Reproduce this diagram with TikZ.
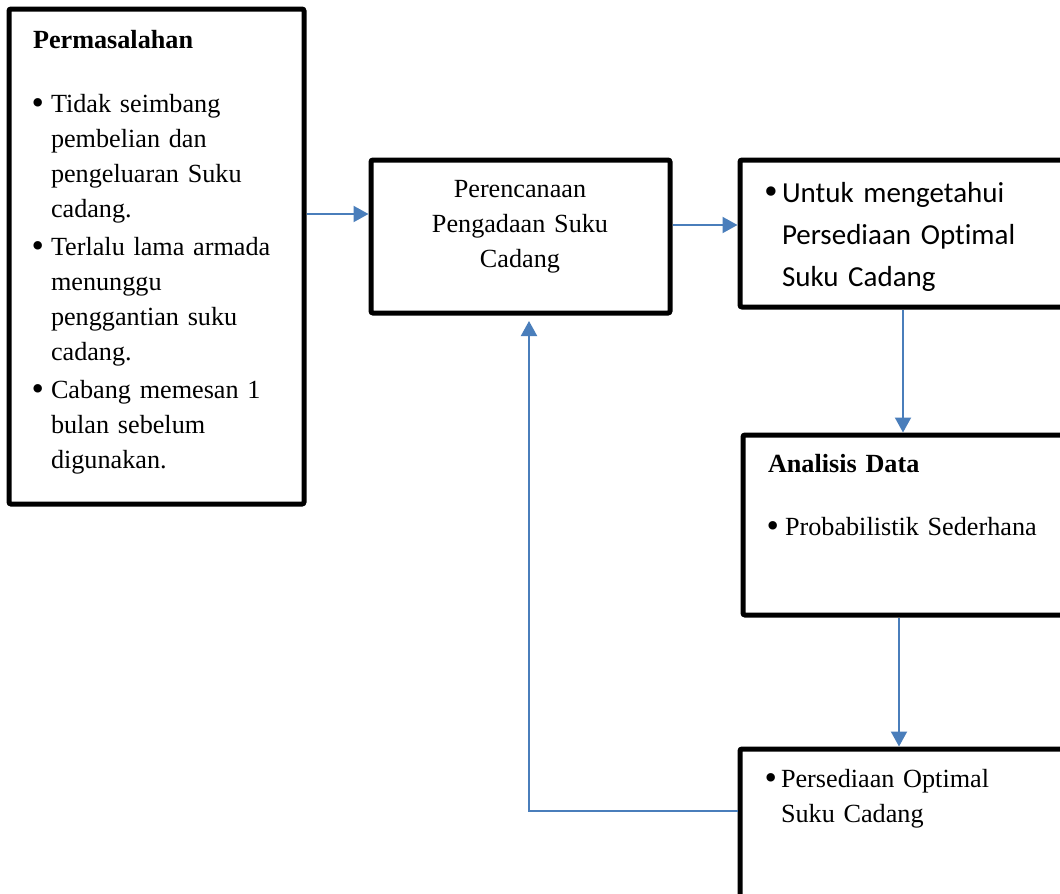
\documentclass[tikz,border=0pt]{standalone}
\usepackage{fontspec}
\usepackage{graphicx}
\setmainfont{Liberation Serif}
\newfontfamily\calibri[Ligatures=NoCommon]{Carlito}
\newfontfamily\bulletfont{Liberation Serif}
\usetikzlibrary{arrows.meta}
\definecolor{conn}{HTML}{4A7EBB}
\newcommand{\blt}[1]{\makebox[#1][l]{\kern-0.7pt\bulletfont\raisebox{-1.4pt}{\scalebox{1.35}{\textbullet}}}}
\begin{document}
\begin{tikzpicture}[x=0.5pt,y=-0.5pt,
  box/.style={draw=black,line width=2.5pt,outer sep=0pt,inner sep=0pt,anchor=north west,rounded corners=1pt},
  txt/.style={inner sep=0pt,outer sep=0pt,anchor=base west,align=left},
  tms/.style={font=\fontsize{13.1}{17.5}\selectfont},
  cal/.style={font=\calibri\fontsize{14.5}{21}\selectfont},
  conn/.style={draw=conn,line width=1pt,-{Triangle[length=7.5pt,width=8pt]}}]
\useasboundingbox (0,0) rectangle (1060,894);
\clip (0,0) rectangle (1060,894);
\fill[white] (0,0) rectangle (1060,894);
% boxes
\node[box,minimum width=147.5pt,minimum height=247.5pt] (b1) at (9,9) {};
\node[box,minimum width=149.5pt,minimum height=76.5pt] (b2) at (371,160) {};
\node[box,minimum width=200pt,minimum height=73.5pt] (b3) at (740,160) {};
\node[box,minimum width=200pt,minimum height=90pt] (b4) at (743,435) {};
\node[box,minimum width=200pt,minimum height=150pt] (b5) at (740,749) {};
% texts
\node[txt,tms,text width=135pt] (t1) at (33,48) {\textbf{Permasalahan}\\[14.5pt]
\blt{9pt}Tidak seimbang\\
\hspace*{9pt}pembelian dan\\
\hspace*{9pt}pengeluaran Suku\\
\hspace*{9pt}cadang.\\[1.5pt]
\blt{9pt}Terlalu lama armada\\
\hspace*{9pt}menunggu\\
\hspace*{9pt}penggantian suku\\
\hspace*{9pt}cadang.\\[1.5pt]
\blt{9pt}Cabang memesan 1\\
\hspace*{9pt}bulan sebelum\\
\hspace*{9pt}digunakan.};
\node[inner sep=0pt,outer sep=0pt,anchor=base,align=center,tms,text width=140pt] (t2) at (520,197) {Perencanaan\\Pengadaan Suku\\Cadang};
\node[txt,cal,text width=150pt] (t3) at (766,202) {\blt{8pt}Untuk mengetahui\\
\hspace*{8pt}Persediaan Optimal\\
\hspace*{8pt}Suku Cadang};
\node[txt,tms,text width=150pt] (t4) at (768,472) {\textbf{Analisis Data}\\[14pt]
\blt{8.5pt}Probabilistik Sederhana};
\node[txt,tms,text width=150pt] (t5) at (766,787) {\blt{7.5pt}Persediaan Optimal\\
\hspace*{7.5pt}Suku Cadang};
% connectors
\draw[conn] ([xshift=1.25pt,yshift=-102.5pt]b1.north east) -- ([xshift=-1.25pt,yshift=-27pt]b2.north west);
\draw[conn] ([xshift=1.25pt,yshift=-32.5pt]b2.north east) -- ([xshift=-1.25pt,yshift=-32.5pt]b3.north west);
\draw[conn] ([xshift=81.5pt,yshift=-1.25pt]b3.south west) -- ([xshift=80pt,yshift=1.25pt]b4.north west);
\draw[conn] ([xshift=78pt,yshift=-1.25pt]b4.south west) -- ([xshift=79.5pt,yshift=1.25pt]b5.north west);
\draw[conn] ([xshift=-1.25pt,yshift=-31pt]b5.north west) -| ([xshift=79pt,yshift=-4pt]b2.south west);
\end{tikzpicture}
\end{document}
